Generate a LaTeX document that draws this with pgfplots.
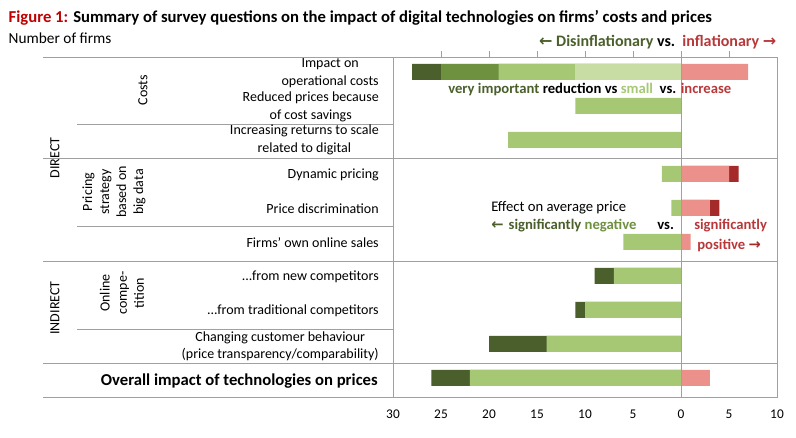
\documentclass[border=0pt]{standalone}
\usepackage{fontspec}
\setmainfont{Carlito}
\usepackage{pgfplots}
\pgfplotsset{compat=1.18}
\definecolor{dgreen}{HTML}{4A5F2B}
\definecolor{mgreen}{HTML}{6E9140}
\definecolor{lgreen}{HTML}{A6C875}
\definecolor{vlgreen}{HTML}{C8DDA4}
\definecolor{pinkr}{HTML}{EB908A}
\definecolor{dred}{HTML}{A52A2A}
\definecolor{txtred}{HTML}{B8383A}
\definecolor{titred}{HTML}{C00000}
\definecolor{gline}{HTML}{A0A0A0}
\begin{document}
\begin{tikzpicture}
\begin{scope}[x=0.75pt,y=-0.75pt]
\path[use as bounding box] (0,0) rectangle (796,437);
\end{scope}
\begin{axis}[at={(294.75pt,-42.75pt)}, anchor=north west, scale only axis,
  width=288pt, height=255pt, xmin=-30, xmax=10, ymin=0.56, ymax=10.56, y dir=reverse,
  axis line style={draw=gline}, xtick={-30,-25,...,10},
  xticklabels={30,25,20,15,10,5,0,5,10}, ytick=\empty, major tick length=0pt,
  xticklabel style={font=\fontsize{10}{12}\selectfont, yshift=-6pt},
  /pgf/number format/assume math mode=true,
  xbar, bar width=12pt, bar shift=0pt, clip=false]
\addplot[fill=dgreen, draw=none] coordinates {(-28,1) (-9,7) (-11,8) (-20,9) (-26,10)};
\addplot[fill=mgreen, draw=none] coordinates {(-25,1)};
\addplot[fill=lgreen, draw=none] coordinates {(-19,1) (-11,2) (-18,3) (-2,4) (-1,5) (-6,6) (-7,7) (-10,8) (-14,9) (-22,10)};
\addplot[fill=vlgreen, draw=none] coordinates {(-11,1)};
\addplot[fill=dred, draw=none] coordinates {(6,4) (4,5)};
\addplot[fill=pinkr, draw=none] coordinates {(7,1) (5,4) (3,5) (1,6) (3,10)};
\end{axis}
\begin{scope}[x=0.75pt,y=-0.75pt]
\foreach \xx in {441,489,537,585,633,681,729} {\draw[gline] (\xx,57) -- (\xx,51);}
\draw[gline] (681,57) -- (681,397);
\foreach \yy in {57,158,261,363,397} {\draw[gline] (43,\yy) -- (777,\yy);}
\foreach \yy in {124,226,329} {\draw[gline] (77,\yy) -- (393,\yy);}
\draw[gline] (393,57) -- (393,397);
\node[anchor=west, font=\fontsize{12.5}{14}\selectfont\bfseries] at (4,18) {\textcolor{titred}{Figure 1:} Summary of survey questions on the impact of digital technologies on firms' costs and prices};
\node[anchor=west, font=\fontsize{11.5}{14}\selectfont] at (4,38) {Number of firms};
\node[anchor=east, font=\fontsize{12}{14}\selectfont\bfseries] at (781,42) {\textcolor{dgreen}{\fontspec{DejaVu Sans}←} \textcolor{dgreen}{Disinflationary} vs.\ \ \textcolor{txtred}{inflationary \fontspec{DejaVu Sans}→}};
\tikzset{rl/.style={font=\fontsize{10.5}{13}\selectfont, align=center, inner sep=0pt}}
\node[rl, anchor=east] at (379,73) {Impact on\\operational costs};
\node[rl, anchor=east] at (379,107) {Reduced prices because\\of cost savings};
\node[rl, anchor=east] at (379,140) {Increasing returns to scale\\related to digital};
\node[rl, anchor=east] at (379,175) {Dynamic pricing};
\node[rl, anchor=east] at (379,209) {Price discrimination};
\node[rl, anchor=east] at (379,243) {Firms' own online sales};
\node[rl, anchor=east] at (379,277) {...from new competitors};
\node[rl, anchor=east] at (379,311) {...from traditional competitors};
\node[rl, anchor=east] at (379,346) {Changing customer behaviour\\(price transparency/comparability)};
\node[rl, anchor=east, font=\fontsize{12.5}{14}\selectfont\bfseries] at (378,381) {Overall impact of technologies on prices};
\node[rl, rotate=90] at (55,158) {DIRECT};
\node[rl, rotate=90] at (55,308) {INDIRECT};
\node[rl, rotate=90] at (143,90) {Costs};
\node[rl, rotate=90, font=\fontsize{10.5}{12.8}\selectfont] at (114,192) {Pricing\\strategy\\based on\\big data};
\node[rl, rotate=90, font=\fontsize{10.5}{12.8}\selectfont] at (122,293) {Online\\compe-\\tition};
\node[anchor=west, inner sep=0pt, font=\fontsize{11}{13}\selectfont\bfseries] at (448,89) {\textcolor{dgreen}{very important} reduction vs \textcolor{lgreen}{small}\ \ vs. \textcolor{txtred}{increase}};
\node[anchor=west, inner sep=0pt, font=\fontsize{11}{13}\selectfont] at (491,208) {Effect on average price};
\node[anchor=west, inner sep=0pt, font=\fontsize{11}{13}\selectfont\bfseries] at (491,226) {\textcolor{dgreen}{\fontspec{DejaVu Sans}←\ }\textcolor{dgreen}{significantly} \textcolor{mgreen}{negative}};
\node[anchor=west, inner sep=0pt, font=\fontsize{11}{13}\selectfont\bfseries] at (657,226) {vs.};
\node[anchor=west, inner sep=0pt, font=\fontsize{11}{13}\selectfont\bfseries] at (694,226) {\textcolor{txtred}{significantly}};
\node[anchor=west, inner sep=0pt, font=\fontsize{11}{13}\selectfont\bfseries] at (697,245) {\textcolor{txtred}{positive} \textcolor{dred}{\fontspec{DejaVu Sans}→}};
\end{scope}
\end{tikzpicture}
\end{document}
